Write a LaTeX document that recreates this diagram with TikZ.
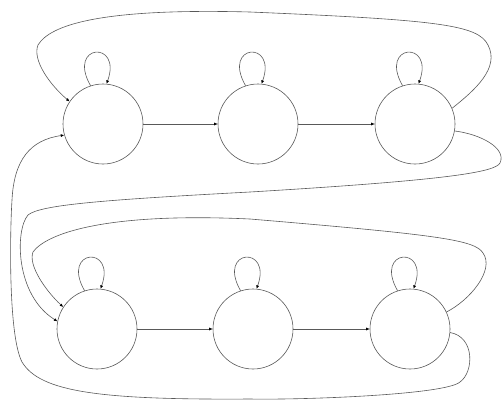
\documentclass[tikz,border=0pt]{standalone}
\usetikzlibrary{arrows.meta}
\begin{document}
\begin{tikzpicture}[x=1pt,y=-1pt,
  state/.style={circle,draw=black!65,line width=0.6pt,minimum size=80pt,inner sep=0pt},
  edge/.style={draw=black!65,line width=0.6pt,-{Latex[length=3.5pt,width=3pt,black]}}]
\useasboundingbox (0,0) rectangle (503,400);
\node[state] (A) at (103,124) {};
\node[state] (B) at (258,124) {};
\node[state] (C) at (415,124) {};
\node[state] (D) at (97,329) {};
\node[state] (E) at (253,329) {};
\node[state] (F) at (410,329) {};
% straight edges
\draw[edge] (A) -- (B);
\draw[edge] (B) -- (C);
\draw[edge] (D) -- (E);
\draw[edge] (E) -- (F);
% self loops
\foreach \n in {A,B,C,D,E,F}
  \draw[edge] (\n.108) .. controls +(-24,-42) and +(16,-44) .. (\n.85);
% C -> A
\draw[edge] (C.23) .. controls (475,90) and (500,68) .. (488,45)
  .. controls (478,25) and (440,20) .. (250,12)
  .. controls (100,8) and (50,25) .. (38,45)
  .. controls (32,60) and (50,85) .. (A.146);
% C -> D
\draw[edge] (C.-10) .. controls (480,134) and (507,148) .. (500,163)
  .. controls (495,172) and (450,180) .. (250,192)
  .. controls (100,200) and (40,205) .. (28,215)
  .. controls (15,230) and (15,295) .. (D.169);
% F -> D
\draw[edge] (F.25) .. controls (470,300) and (495,270) .. (483,253)
  .. controls (475,240) and (440,235) .. (250,219)
  .. controls (100,212) and (45,235) .. (33,252)
  .. controls (28,265) and (45,290) .. (D.147);
% F -> A
\draw[edge] (F.-5) .. controls (475,337) and (474,372) .. (460,382)
  .. controls (445,395) and (300,400) .. (250,399)
  .. controls (100,400) and (40,392) .. (22,362)
  .. controls (8,335) and (10,230) .. (12,200)
  .. controls (14,160) and (30,140) .. (A.196);
\end{tikzpicture}
\end{document}
